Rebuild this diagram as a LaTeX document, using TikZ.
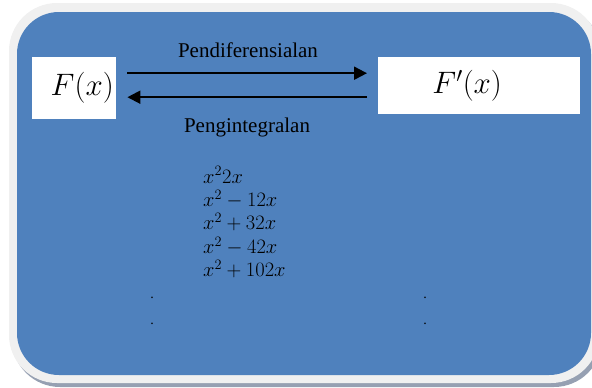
\RequirePackage{fix-cm}
\documentclass[tikz,border=0pt]{standalone}
\usepackage{fontspec}
\setmainfont{Liberation Serif}
\usetikzlibrary{arrows.meta,calc}
\definecolor{bgblue}{RGB}{79,129,189}
\definecolor{rimgray}{RGB}{240,240,240}
\definecolor{shadowgray}{RGB}{150,160,178}
\tikzset{
  whitebox/.style={fill=white,draw=none,inner sep=0pt,anchor=north west,font=\fontsize{31}{36}\selectfont},
  arr/.style={line width=2pt,-{Triangle[length=13pt,width=13pt]}},
  lbl/.style={font=\fontsize{21}{24}\selectfont,inner sep=0pt},
  mathline/.style={font=\fontsize{20.5}{24}\selectfont,inner sep=0pt,anchor=west},
  dotnode/.style={font=\fontsize{14}{16}\selectfont,inner sep=0pt}
}
\begin{document}
\begin{tikzpicture}[x=1pt,y=-1pt]
\useasboundingbox (0,0) rectangle (592,388);
% frame
\fill[shadowgray] (12,7) [rounded corners=48pt] rectangle (602,387);
\fill[rimgray] (9,3) [rounded corners=48pt] rectangle (599,383);
\fill[bgblue] (17,12) [rounded corners=42pt] rectangle (591,375);
% boxes
\node[whitebox,minimum width=84pt,minimum height=62pt] (fx) at (32,57) {\kern16pt$F(x)$};
\node[whitebox,minimum width=202pt,minimum height=57pt] (fpx) at (378,57) {$F'(x)$\kern24pt};
% arrows
\draw[arr] ([xshift=11pt,yshift=15pt]fx.east) -- ([xshift=-11pt,yshift=15pt]fx.east -| fpx.west);
\draw[arr] ([xshift=-11pt,yshift=-9pt]fx.east -| fpx.west) -- ([xshift=11pt,yshift=-9pt]fx.east);
% labels
\node[lbl] (d) at (248,50) {Pendiferensialan};
\node[lbl] (i) at (247,127) {Pengintegralan};
% math list
\node[mathline] (m1) at (203,175) {$x^2 2x$};
\node[mathline] (m2) at (203,199) {$x^2-12x$};
\node[mathline] (m3) at (203,222) {$x^2+32x$};
\node[mathline] (m4) at (203,246) {$x^2-42x$};
\node[mathline] (m5) at (203,269) {$x^2+102x$};
% dots
\node[dotnode] (p1) at (152,298) {.};
\node[dotnode] (p2) at (152,324) {.};
\node[dotnode] (p3) at (425,298) {.};
\node[dotnode] (p4) at (425,324) {.};
\end{tikzpicture}
\end{document}
